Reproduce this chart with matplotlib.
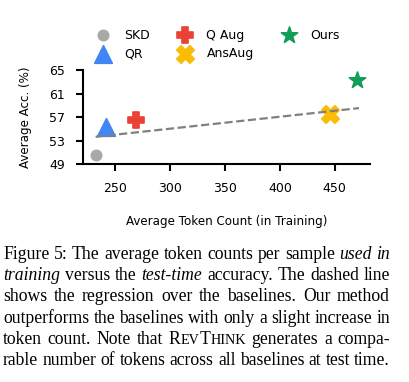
import numpy as np
import matplotlib
matplotlib.use("Agg")
import matplotlib.pyplot as plt

# data
methods = ["SKD", "QR", "Q Aug", "AnsAug", "Ours"]
tokens = np.array([232.5, 241.5, 269, 446, 470])
accs = np.array([50.5, 55.3, 56.6, 57.6, 63.4])
markers = ["o", "^", "P", "X", "*"]
sizes = [55, 160, 120, 160, 150]
colours = ["#a8a8a8", "#4285f4", "#ea4335", "#fbbc04", "#0f9d58"]

xticks = [250, 300, 350, 400, 450]
yticks = [49, 53, 57, 61, 65]

caption = [
    [("Figure", "n"), ("5:", "n"), ("The", "n"), ("average", "n"), ("token", "n"),
     ("counts", "n"), ("per", "n"), ("sample", "n"), ("used", "i"), ("in", "i")],
    [("training", "i"), ("versus", "n"), ("the", "n"), ("test-time", "i"),
     ("accuracy.", "n"), ("The", "n"), ("dashed", "n"), ("line", "n")],
    [("shows", "n"), ("the", "n"), ("regression", "n"), ("over", "n"), ("the", "n"),
     ("baselines.", "n"), ("Our", "n"), ("method", "n")],
    [("outperforms", "n"), ("the", "n"), ("baselines", "n"), ("with", "n"), ("only", "n"),
     ("a", "n"), ("slight", "n"), ("increase", "n"), ("in", "n")],
    [("token", "n"), ("count.", "n"), ("Note", "n"), ("that", "n"), ("REVTHINK", "sc"),
     ("generates", "n"), ("a", "n"), ("compa-", "n")],
    [("rable", "n"), ("number", "n"), ("of", "n"), ("tokens", "n"), ("across", "n"),
     ("all", "n"), ("baselines", "n"), ("at", "n"), ("test", "n"), ("time.", "n")],
]

W, H = 410, 382
fig = plt.figure(figsize=(W / 100, H / 100), dpi=100)
ax = fig.add_axes([83 / W, 1 - 164.3 / H, (370 - 83) / W, (164.3 - 70.3) / H])

for i in range(len(methods)):
    ax.scatter(tokens[i], accs[i], marker=markers[i], s=sizes[i], color=colours[i],
               edgecolors=colours[i], linewidths=1.2, label=methods[i], zorder=2)

# regression over the baselines only
coef = np.polyfit(tokens[:4], accs[:4], 1)
xs = np.array([tokens.min(), tokens.max() + 2])
ax.plot(xs, np.polyval(coef, xs), "--", color="#808080", lw=1.6, zorder=3)

ax.set_xlim(221, 482)
ax.set_ylim(49, 65)
ax.set_xticks(xticks)
ax.set_yticks(yticks)
for s in ["top", "right"]:
    ax.spines[s].set_visible(False)
for s in ["left", "bottom"]:
    ax.spines[s].set_linewidth(1.5)
ax.tick_params(width=1.5, length=5, labelsize=9, pad=8)
ax.set_xlabel("Average Token Count (in Training)", fontsize=8.6, labelpad=14)
ax.set_ylabel("Average Acc. (%)", fontsize=8.6, labelpad=12)

fig.legend(loc="center left", bbox_to_anchor=(92 / W, 1 - 44.5 / H), ncol=3, frameon=False,
           fontsize=9, handlelength=1.0, handletextpad=1.2, columnspacing=2.3,
           labelspacing=0.45, scatterpoints=1, borderaxespad=0)

# caption, justified word by word
renderer = fig.canvas.get_renderer()
fs = 12.7
x0, x1 = 3, 390
base = 259
step = 21.2


def word_parts(word, style):
    if style == "sc":
        return [("R", "n", 1.0), ("EV", "n", 0.8), ("T", "n", 1.0), ("HINK", "n", 0.8)]
    return [(word, style, 1.0)]


def draw_part(x, y, txt, style, scale):
    t = fig.text(x / W, 1 - y / H, txt, family="Liberation Serif", fontsize=fs * scale,
                 style="italic" if style == "i" else "normal", va="baseline", ha="left")
    return t, t.get_window_extent(renderer).width


for li, line in enumerate(caption):
    y = base + li * step
    arts = []
    widths = []
    for word, style in line:
        parts = []
        wsum = 0
        for txt, st, sc in word_parts(word, style):
            t, w = draw_part(0, y, txt, st, sc)
            parts.append((t, w))
            wsum += w
        arts.append(parts)
        widths.append(wsum)
    gap = (x1 - x0 - sum(widths)) / (len(line) - 1)
    x = x0
    for parts, w in zip(arts, widths):
        xx = x
        for t, pw in parts:
            t.set_x(xx / W)
            xx += pw
        x += w + gap

fig.savefig("out.png", dpi=100)
